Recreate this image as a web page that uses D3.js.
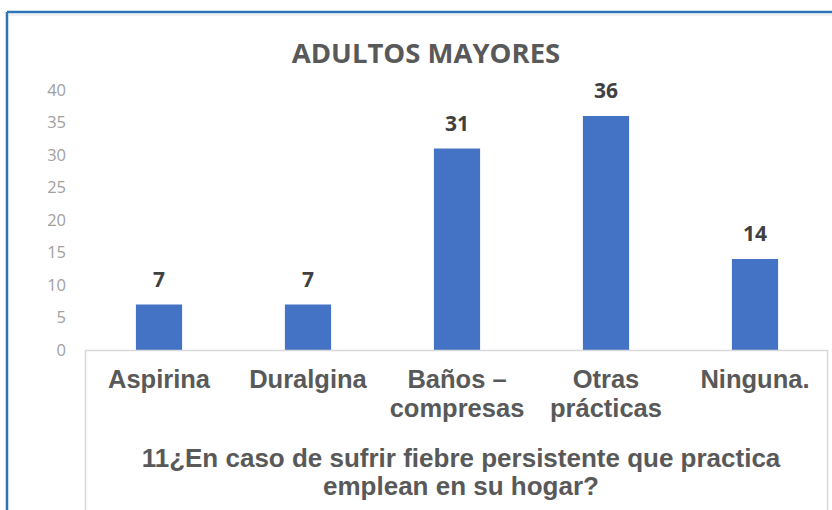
<!DOCTYPE html>
<html>
<head>
<meta charset="utf-8">
<script src="https://cdn.jsdelivr.net/npm/d3@7"></script>
<style>
  body { margin: 0; background: #fff; }
  svg { display: block; }
</style>
</head>
<body>
<svg id="chart" width="832" height="510"></svg>
<script>
// data
var categories = ["Aspirina", "Duralgina", "Baños –\ncompresas", "Otras\nprácticas", "Ninguna."];
var values = [7, 7, 31, 36, 14];
var yTicks = [0, 5, 10, 15, 20, 25, 30, 35, 40];
var chartTitle = "ADULTOS MAYORES";
var axisTitle = ["11¿En caso de sufrir fiebre persistente que practica", "emplean en su hogar?"];

var svg = d3.select("#chart");

// outer frame (blue top + left edge)
svg.append("rect")
    .attr("x", 0).attr("y", 0).attr("width", 832).attr("height", 510)
    .attr("fill", "#fff");
svg.append("line")
    .attr("x1", 7).attr("x2", 832).attr("y1", 12).attr("y2", 12)
    .attr("stroke", "#2e75b6").attr("stroke-width", 2.5);
svg.append("line")
    .attr("x1", 7).attr("x2", 7).attr("y1", 12).attr("y2", 510)
    .attr("stroke", "#2e75b6").attr("stroke-width", 2.5);
svg.append("line")
    .attr("x1", 9).attr("x2", 832).attr("y1", 15).attr("y2", 15)
    .attr("stroke", "#eeeeee").attr("stroke-width", 1.5);

var x = d3.scaleBand()
    .domain(categories)
    .range([84.5, 829.5])
    .paddingInner(0.69)
    .paddingOuter(0.345);

var y = d3.scaleLinear()
    .domain([0, 40])
    .range([350, 90]);

// title
svg.append("text")
    .attr("x", 426)
    .attr("y", 63)
    .attr("text-anchor", "middle")
    .attr("font-family", "Open Sans")
    .attr("font-weight", "bold")
    .attr("font-size", "27.5px")
    .attr("fill", "#595959")
    .text(chartTitle);

// y axis labels, no line
var yAxis = svg.append("g")
    .attr("transform", "translate(72,0)")
    .call(d3.axisLeft(y).tickValues(yTicks).tickSize(0).tickPadding(6));
yAxis.select(".domain").remove();
yAxis.selectAll("text")
    .attr("font-family", "Open Sans")
    .attr("font-size", "16.5px")
    .attr("fill", "#a0a0a0");

// bars
svg.append("g")
    .selectAll("rect")
    .data(values)
    .enter()
    .append("rect")
      .attr("x", function(d, i) { return x(categories[i]); })
      .attr("y", function(d) { return y(d); })
      .attr("width", x.bandwidth())
      .attr("height", function(d) { return y(0) - y(d); })
      .attr("fill", "#4472c4");

// value labels
svg.append("g")
    .selectAll("text")
    .data(values)
    .enter()
    .append("text")
      .attr("x", function(d, i) { return x(categories[i]) + x.bandwidth() / 2; })
      .attr("y", function(d) { return y(d) - 18; })
      .attr("text-anchor", "middle")
      .attr("font-family", "Open Sans")
      .attr("font-weight", "bold")
      .attr("font-size", "21px")
      .attr("fill", "#404040")
      .text(function(d) { return d; });

// category box
svg.append("rect")
    .attr("x", 85.5).attr("y", 350.5)
    .attr("width", 742).attr("height", 170)
    .attr("fill", "#fff")
    .attr("stroke", "#d9d9d9")
    .attr("stroke-width", 1.5);

// category labels
var catG = svg.append("g");
categories.forEach(function(c, i) {
    var t = catG.append("text")
        .attr("x", x(c) + x.bandwidth() / 2)
        .attr("y", 388)
        .attr("text-anchor", "middle")
        .attr("font-family", "Liberation Sans")
        .attr("font-weight", "bold")
        .attr("font-size", "25.5px")
        .attr("fill", "#595959");
    c.split("\n").forEach(function(line, j) {
        t.append("tspan")
            .attr("x", x(c) + x.bandwidth() / 2)
            .attr("dy", j == 0 ? 0 : 29)
            .text(line);
    });
});

// axis title
var at = svg.append("text")
    .attr("x", 461)
    .attr("y", 467)
    .attr("text-anchor", "middle")
    .attr("font-family", "Liberation Sans")
    .attr("font-weight", "bold")
    .attr("font-size", "26px")
    .attr("fill", "#595959");
axisTitle.forEach(function(line, j) {
    at.append("tspan")
        .attr("x", 461)
        .attr("dy", j == 0 ? 0 : 28)
        .text(line);
});
</script>
</body>
</html>
